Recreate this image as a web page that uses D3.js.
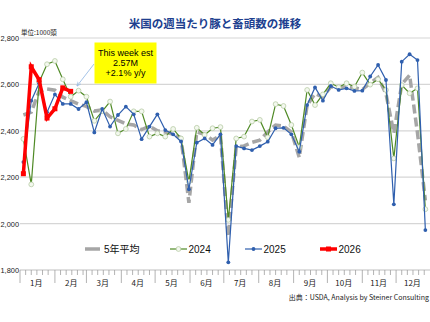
<!DOCTYPE html>
<html>
<head>
<meta charset="utf-8">
<script src="https://cdnjs.cloudflare.com/ajax/libs/d3/7.8.5/d3.min.js"></script>
<style>
  body { margin: 0; background: #fff; }
  text { font-family: "Liberation Sans", "Noto Sans CJK JP", sans-serif; }
</style>
</head>
<body>
<svg width="430" height="322"></svg>
<script>
// weekly hog slaughter, 1000 head
var weeks = [1,2,3,4,5,6,7,8,9,10,11,12,13,14,15,16,17,18,19,20,21,22,23,24,25,26,
             27,28,29,30,31,32,33,34,35,36,37,38,39,40,41,42,43,44,45,46,47,48,49,50,51,52];
var months = ["1月","2月","3月","4月","5月","6月","7月","8月","9月","10月","11月","12月"];
var yTicks = [1800, 2000, 2200, 2400, 2600, 2800];

var avg5 = [2468,2480,2570,2580,2575,2545,2530,2515,2505,2485,
            2490,2460,2445,2430,2425,2405,2420,2400,2395,2385,
            2370,2090,2395,2385,2360,2380,1945,2330,2335,2350,
            2360,2395,2425,2420,2395,2285,2510,2560,2545,2590,
            2585,2590,2585,2578,2605,2630,2560,2390,2600,2640,
            2390,2100];
var y2024 = [2365,2169,2610,2687,2701,2622,2547,2573,2547,2443,
             2484,2526,2389,2408,2484,2484,2375,2389,2375,2408,
             2367,2181,2413,2382,2411,2416,2016,2367,2375,2440,
             2447,2372,2515,2507,2425,2330,2576,2511,2557,2605,
             2588,2605,2590,2651,2599,2622,2576,2281,2597,2562,
             2583,2062];
var y2025 = [2265,2530,2605,2480,2557,2516,2516,2494,2523,2393,
             2494,2418,2468,2504,2471,2364,2418,2471,2403,2385,
             2354,2148,2349,2367,2339,2385,1833,2334,2324,2317,
             2334,2353,2411,2413,2385,2310,2511,2587,2530,2593,
             2576,2583,2572,2573,2634,2684,2619,2083,2698,2730,
             2705,1972];
var y2026 = [2215,2676,2620,2455,2495,2585,2570];

var svg = d3.select("svg");

var x = d3.scaleTime()
    .domain([new Date(2026, 0, 1), new Date(2027, 0, 1)])
    .range([20, 431]);
var y = d3.scaleLinear().domain([1800, 2800]).range([270, 38]);

function weekDate(w) { return d3.timeDay.offset(new Date(2026, 0, 4), 7 * (w - 1)); }

// title
svg.append("text")
    .attr("x", 215).attr("y", 28)
    .attr("text-anchor", "middle")
    .style("font-family", "'Noto Sans CJK JP', sans-serif")
    .style("font-size", "11.5px").style("font-weight", "bold")
    .attr("fill", "#203f8f")
    .text("米国の週当たり豚と畜頭数の推移");

svg.append("text")
    .attr("x", 21).attr("y", 35)
    .style("font-family", "'Noto Sans CJK JP', sans-serif")
    .style("font-size", "6.5px")
    .attr("fill", "#222")
    .text("単位:1000頭");

// grid + y labels
svg.append("g").selectAll("line")
    .data(yTicks.slice(1))
  .enter().append("line")
    .attr("x1", 20).attr("x2", 430)
    .attr("y1", function(d) { return y(d); })
    .attr("y2", function(d) { return y(d); })
    .attr("stroke", "#d6d6d6").attr("stroke-width", 1.2);

svg.append("g").selectAll("text")
    .data(yTicks)
  .enter().append("text")
    .attr("x", 19).attr("y", function(d) { return y(d) + 3; })
    .attr("text-anchor", "end")
    .style("font-size", "7.4px").attr("fill", "#222")
    .text(d3.format(","));

// x axis
svg.append("line")
    .attr("x1", 20).attr("x2", 431)
    .attr("y1", y(1800)).attr("y2", y(1800))
    .attr("stroke", "#bfbfbf");

var monthStarts = d3.timeMonth.range(new Date(2026, 0, 1), new Date(2027, 0, 2));
var minor = [];
monthStarts.forEach(function(m) {
  [6, 11, 16, 21, 26].forEach(function(dd) { minor.push(new Date(m.getFullYear(), m.getMonth(), dd)); });
});

svg.append("g").selectAll("line")
    .data(minor)
  .enter().append("line")
    .attr("x1", function(d) { return x(d); }).attr("x2", function(d) { return x(d); })
    .attr("y1", 270).attr("y2", 275)
    .attr("stroke", "#a0a0a0").attr("stroke-width", 0.8);

svg.append("g").selectAll("line")
    .data(monthStarts)
  .enter().append("line")
    .attr("x1", function(d) { return x(d); }).attr("x2", function(d) { return x(d); })
    .attr("y1", 270).attr("y2", 283)
    .attr("stroke", "#a0a0a0").attr("stroke-width", 0.8);

svg.append("g").selectAll("text")
    .data(months)
  .enter().append("text")
    .attr("x", function(d, i) { return x(new Date(2026, i, 15, 12)); })
    .attr("y", 286)
    .attr("text-anchor", "middle")
    .style("font-family", "'Noto Sans CJK JP', sans-serif")
    .style("font-size", "8px").attr("fill", "#222")
    .text(function(d) { return d; });

svg.append("text")
    .attr("x", 429).attr("y", 300)
    .attr("text-anchor", "end")
    .style("font-family", "'Noto Sans CJK JP', sans-serif")
    .style("font-size", "7px").attr("fill", "#222")
    .text("出典：USDA, Analysis by Steiner Consulting");

// series
var line = d3.line()
    .x(function(d, i) { return x(weekDate(weeks[i])); })
    .y(function(d) { return y(d); });

svg.append("path").datum(avg5)
    .attr("d", line).attr("fill", "none")
    .attr("stroke", "#a6a6a6").attr("stroke-width", 3.5)
    .attr("stroke-dasharray", "9,4");

svg.append("path").datum(y2024)
    .attr("d", line).attr("fill", "none")
    .attr("stroke", "#4f8a25").attr("stroke-width", 1.2);
svg.append("g").selectAll("circle")
    .data(y2024)
  .enter().append("circle")
    .attr("cx", function(d, i) { return x(weekDate(weeks[i])); })
    .attr("cy", function(d) { return y(d); })
    .attr("r", 2.4)
    .attr("fill", "#f3f8ee").attr("stroke", "#b8cca6").attr("stroke-width", 0.8);

svg.append("path").datum(y2025)
    .attr("d", line).attr("fill", "none")
    .attr("stroke", "#2f5fae").attr("stroke-width", 1.2);
svg.append("g").selectAll("circle")
    .data(y2025)
  .enter().append("circle")
    .attr("cx", function(d, i) { return x(weekDate(weeks[i])); })
    .attr("cy", function(d) { return y(d); })
    .attr("r", 1.9)
    .attr("fill", "#2f5fae");

svg.append("path").datum(y2026)
    .attr("d", line).attr("fill", "none")
    .attr("stroke", "#ff0000").attr("stroke-width", 3.5)
    .attr("stroke-linejoin", "miter");
svg.append("g").selectAll("rect")
    .data(y2026)
  .enter().append("rect")
    .attr("x", function(d, i) { return x(weekDate(weeks[i])) - 2.5; })
    .attr("y", function(d) { return y(d) - 2.5; })
    .attr("width", 5).attr("height", 5)
    .attr("fill", "#ff0000");

// callout
svg.append("defs").append("marker")
    .attr("id", "arr").attr("viewBox", "0 0 10 10")
    .attr("refX", 9).attr("refY", 5)
    .attr("markerWidth", 6).attr("markerHeight", 6)
    .attr("orient", "auto")
  .append("path").attr("d", "M0,1L10,5L0,9").attr("fill", "none")
    .attr("stroke", "#8db4e2").attr("stroke-width", 1.2);

svg.append("line")
    .attr("x1", 94).attr("y1", 64).attr("x2", 77).attr("y2", 86)
    .attr("stroke", "#8db4e2").attr("stroke-width", 0.8)
    .attr("marker-end", "url(#arr)");

svg.append("rect")
    .attr("x", 94.5).attr("y", 42.5).attr("width", 62).attr("height", 41)
    .attr("fill", "#ffff00");

var note = ["This week est", "2.57M", "+2.1% y/y"];
svg.append("g").selectAll("text")
    .data(note)
  .enter().append("text")
    .attr("x", 125.5).attr("y", function(d, i) { return 56 + i * 10; })
    .attr("text-anchor", "middle")
    .style("font-size", "9px").attr("fill", "#000")
    .text(function(d) { return d; });

// legend
var legend = [
  {name: "5年平均", color: "#a6a6a6", w: 3.5, x: 85},
  {name: "2024", color: "#4f8a25", w: 1.2, x: 170},
  {name: "2025", color: "#2f5fae", w: 1.2, x: 245},
  {name: "2026", color: "#ff0000", w: 3.5, x: 320}
];
var lg = svg.append("g").selectAll("g")
    .data(legend)
  .enter().append("g")
    .attr("transform", function(d) { return "translate(" + d.x + ",249)"; });
lg.append("line")
    .attr("x1", 0).attr("x2", function(d, i) { return i === 0 ? 15 : 17; })
    .attr("stroke", function(d) { return d.color; })
    .attr("stroke-width", function(d) { return d.w; });
lg.filter(function(d, i) { return i === 1; }).append("circle")
    .attr("cx", 8.5).attr("r", 2.4)
    .attr("fill", "#f3f8ee").attr("stroke", "#b8cca6").attr("stroke-width", 0.8);
lg.filter(function(d, i) { return i === 2; }).append("circle")
    .attr("cx", 8.5).attr("r", 1.9).attr("fill", "#2f5fae");
lg.filter(function(d, i) { return i === 3; }).append("rect")
    .attr("x", 6).attr("y", -2.5).attr("width", 5).attr("height", 5).attr("fill", "#ff0000");
lg.append("text")
    .attr("x", function(d, i) { return i === 0 ? 19 : 18.5; })
    .attr("y", 3.8)
    .style("font-family", "'Liberation Sans', 'Noto Sans CJK JP', sans-serif")
    .style("font-size", "10px").attr("fill", "#111")
    .text(function(d) { return d.name; });
</script>
</body>
</html>
